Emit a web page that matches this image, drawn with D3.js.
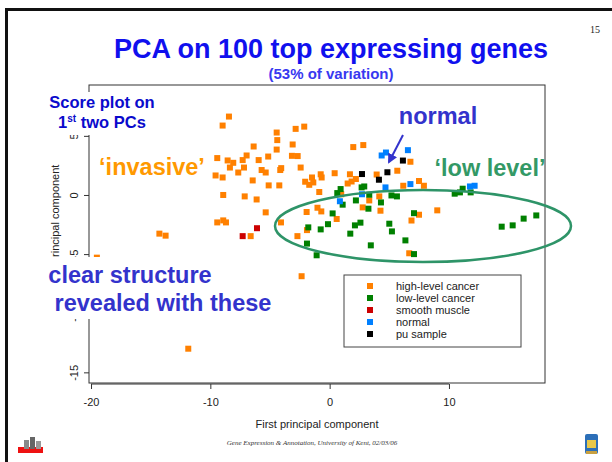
<!DOCTYPE html>
<html lang="en">
  <head>
    <meta charset="utf-8">
    <script type="text/javascript" src="https://cdn.jsdelivr.net/npm/d3@7"></script>
    <style type="text/css">
      body { margin: 0; background: #ffffff; }
      text { font-family: "Liberation Sans", Arial, sans-serif; }
      .serif { font-family: "Liberation Serif", "Times New Roman", serif; }
    </style>
  </head>
  <body>
    <script type="text/javascript">
      // scores on the first two principal components, per sample group
      var highLevel = [
        [-8.44, 6.63], [-8.97, 5.87], [-4.44, 5.28], [-2.85, 5.59], [-2.13, 5.78],
        [-4.39, 4.64], [-4.44, 3.84], [-6.37, 4.10], [-3.10, 4.27], [-9.42, 3.12],
        [-8.55, 2.92], [-8.08, 2.72], [-8.36, 2.32], [-7.29, 2.95], [-6.96, 3.34],
        [-5.95, 2.95], [-5.15, 3.25], [-7.18, 2.32], [-7.66, 1.90], [-9.56, 1.65],
        [-8.97, 1.48], [-6.45, 1.23], [-5.70, 2.11], [-5.36, 1.90], [-4.06, 2.27],
        [-4.14, 2.11], [-3.16, 3.31], [-2.68, 3.29], [-2.43, 2.32], [-5.11, 0.81],
        [-4.22, 0.81], [-2.05, 1.12], [-1.71, 0.86], [-8.92, 0.00], [-7.12, -0.12],
        [-6.12, -0.38], [-5.36, -1.47], [-4.08, -2.32], [-9.42, -2.32], [-8.92, -2.15],
        [-8.69, -2.32], [-6.62, -3.48], [-2.70, -3.48], [-1.93, -1.44], [-1.90, -2.97],
        [-2.35, -6.87], [-14.27, -3.27], [-13.75, -3.44], [-19.51, -5.30], [-11.85, -13.00],
        [1.98, 4.05], [2.82, 4.22], [0.42, 1.84], [-0.75, 1.75], [-0.67, 1.48],
        [-1.48, 1.48], [-1.37, 1.06], [1.70, 1.75], [2.20, 1.35], [1.84, 1.14],
        [1.51, 0.97], [-0.87, 0.25], [0.97, 0.06], [3.94, 1.73], [5.67, 2.05],
        [6.77, 2.81], [6.17, 0.78], [7.49, 1.18], [7.90, 0.78], [3.32, -0.46],
        [4.16, -0.12], [2.77, -1.05], [-1.02, -1.08], [-0.70, -1.39], [4.26, -1.33],
        [0.59, -2.03], [6.86, -2.16], [7.49, -1.67], [9.02, -1.30], [6.67, -4.93]
      ];
      var lowLevel = [
        [0.92, 0.50], [0.64, 0.16], [1.09, -0.82], [2.68, 0.64], [2.90, 0.72],
        [3.32, 0.02], [2.20, -0.46], [4.30, -0.63], [5.18, -0.04], [5.64, -0.12],
        [3.25, -1.16], [0.25, -1.56], [7.07, -1.54], [-0.14, -2.47], [-0.75, -2.91],
        [2.58, -2.34], [2.12, -2.57], [5.00, -2.43], [-1.79, -2.74], [1.73, -3.27],
        [5.22, -3.08], [-1.90, -4.11], [-1.09, -5.10], [3.45, -4.26], [6.35, -3.84],
        [7.07, -5.00], [10.48, 0.11], [10.92, 0.22], [11.15, 0.53], [11.82, 0.22],
        [14.42, -2.68], [15.34, -2.57], [16.26, -2.00], [17.32, -1.73]
      ];
      var smoothMuscle = [[-6.09, -2.81], [-7.29, -3.48]];
      var normal = [
        [4.36, 3.34], [4.72, 3.59], [6.56, 3.79], [6.77, 0.92], [4.68, 0.64],
        [2.71, 0.06], [0.86, -0.53], [11.76, 0.72], [12.15, 0.78]
      ];
      var puSample = [[2.71, 1.77], [4.13, 1.29], [4.84, 1.92], [6.14, 2.91]];

      var groupNames = ["high-level cancer", "low-level cancer", "smooth muscle", "normal", "pu sample"];
      var groupColors = ["#ff8000", "#008000", "#cc0000", "#0080ff", "#000000"];
      var groups = [highLevel, lowLevel, smoothMuscle, normal, puSample];

      var xTicks = [-20, -10, 0, 10];
      var yTicks = [-15, -10, -5, 0, 5];

      var width = 612, height = 462;
      var plot = {left: 89, right: 545, top: 85, bottom: 383};

      var xScale = d3.scaleLinear().domain([-20.17, 18.05]).range([plot.left, plot.right]);
      var yScale = d3.scaleLinear().domain([-15.9, 9.3]).range([plot.bottom, plot.top]);

      // plain hyphen for negative numbers, as in the original R plot
      var plain = function(d) { return String(d); };

      var svg = d3.select("body").append("svg")
        .attr("width", width)
        .attr("height", height);

      svg.append("rect").attr("width", width).attr("height", height).attr("fill", "#ffffff");

      // slide frame (top and left edges)
      svg.append("rect").attr("x", 5).attr("y", 8).attr("width", 610).attr("height", 3).attr("fill", "#111");
      svg.append("rect").attr("x", 5).attr("y", 8).attr("width", 3).attr("height", 460).attr("fill", "#111");

      // slide number
      svg.append("text").attr("class", "serif")
        .attr("x", 590).attr("y", 33)
        .style("font-size", "10px").attr("fill", "#222")
        .text("15");

      // title
      svg.append("text")
        .attr("x", 331).attr("y", 58)
        .attr("text-anchor", "middle")
        .style("font-size", "27px").style("font-weight", "bold")
        .attr("fill", "#1010ee")
        .text("PCA on 100 top expressing genes");
      svg.append("text")
        .attr("x", 331).attr("y", 79)
        .attr("text-anchor", "middle")
        .style("font-size", "15px").style("font-weight", "bold")
        .attr("fill", "#3838f0")
        .text("(53% of variation)");

      // plot box
      svg.append("rect")
        .attr("x", plot.left).attr("y", plot.top)
        .attr("width", plot.right - plot.left).attr("height", plot.bottom - plot.top)
        .attr("fill", "none").attr("stroke", "#333").attr("stroke-width", 1);

      // axes
      var xAxis = d3.axisBottom(xScale).tickValues(xTicks).tickSize(5).tickPadding(9).tickFormat(plain);
      var gx = svg.append("g")
        .attr("transform", "translate(0," + (plot.bottom + 1) + ")")
        .call(xAxis);
      gx.select(".domain").attr("d", "M" + xScale(-20) + ",0H" + xScale(10)).attr("stroke", "#333");
      gx.selectAll("line").attr("stroke", "#333");
      gx.selectAll("text").style("font-size", "11px").attr("fill", "#222");

      var yAxis = d3.axisLeft(yScale).tickValues(yTicks).tickSize(5).tickFormat(plain);
      var gy = svg.append("g")
        .attr("transform", "translate(" + plot.left + ",0)")
        .call(yAxis);
      gy.select(".domain").remove();
      gy.selectAll("line").attr("stroke", "#333");
      gy.selectAll("text")
        .style("font-size", "11px").attr("fill", "#222")
        .attr("text-anchor", "middle")
        .attr("x", 0).attr("dy", 0)
        .attr("transform", "translate(-11,0) rotate(-90)");
      svg.selectAll(".tick text").attr("font-family", null);

      svg.append("text")
        .attr("x", (plot.left + plot.right) / 2).attr("y", 428)
        .attr("text-anchor", "middle")
        .style("font-size", "11px").attr("fill", "#222")
        .text("First principal component");
      svg.append("text")
        .attr("transform", "translate(59," + ((plot.top + plot.bottom) / 2) + ") rotate(-90)")
        .attr("text-anchor", "middle")
        .style("font-size", "11px").attr("fill", "#222")
        .text("Second principal component");

      // points
      groups.forEach(function(g, i) {
        svg.append("g").selectAll("rect")
          .data(g)
          .enter()
          .append("rect")
          .attr("x", function(d) { return xScale(d[0]) - 3; })
          .attr("y", function(d) { return yScale(d[1]) - 3; })
          .attr("width", 6).attr("height", 6)
          .attr("fill", groupColors[i]);
      });

      // legend
      var legend = svg.append("g");
      legend.append("rect")
        .attr("x", 344).attr("y", 275).attr("width", 177).attr("height", 72)
        .attr("fill", "#ffffff").attr("stroke", "#444").attr("stroke-width", 1);
      groupNames.forEach(function(name, i) {
        legend.append("rect")
          .attr("x", 367).attr("y", 283 + i * 12).attr("width", 6).attr("height", 6)
          .attr("fill", groupColors[i]);
        legend.append("text")
          .attr("x", 396).attr("y", 290 + i * 12)
          .style("font-size", "11px").attr("fill", "#222")
          .text(name);
      });

      // ellipse round the low-level group
      svg.append("ellipse")
        .attr("cx", 423).attr("cy", 226).attr("rx", 148).attr("ry", 36)
        .attr("fill", "none").attr("stroke", "#2e9468").attr("stroke-width", 2.5);

      // annotations
      function note(x, y, str, size, color) {
        return svg.append("text")
          .attr("x", x).attr("y", y)
          .attr("text-anchor", "middle")
          .style("font-size", size + "px").style("font-weight", "bold")
          .attr("fill", color)
          .text(str);
      }

      svg.append("rect").attr("x", 44).attr("y", 92).attr("width", 116).attr("height", 43).attr("fill", "#ffffff");
      note(102, 108, "Score plot on", 16.5, "#0a0acc");
      var pcs = note(102, 128, "", 16.5, "#0a0acc");
      pcs.append("tspan").text("1");
      pcs.append("tspan").attr("dy", -6).style("font-size", "10px").text("st");
      pcs.append("tspan").attr("dy", 6).text(" two PCs");

      svg.append("rect").attr("x", 44).attr("y", 257).attr("width", 236).attr("height", 62).attr("fill", "#ffffff");
      note(130, 283, "clear structure", 23.5, "#3333cc");
      note(163, 311, "revealed with these", 23.5, "#3333cc");

      note(152, 175, "\u2018invasive\u2019", 23.5, "#ff9900");
      note(438, 124, "normal", 23.5, "#3333cc");
      note(490, 176, "\u2018low level\u2019", 23.5, "#339966");

      // arrow to the normal samples
      svg.append("defs").append("marker")
        .attr("id", "head").attr("viewBox", "0 0 10 10")
        .attr("refX", 8).attr("refY", 5)
        .attr("markerWidth", 5).attr("markerHeight", 5)
        .attr("orient", "auto")
        .append("path").attr("d", "M0,0L10,5L0,10z").attr("fill", "#3333cc");
      svg.append("line")
        .attr("x1", 403).attr("y1", 135).attr("x2", 389).attr("y2", 162)
        .attr("stroke", "#3333cc").attr("stroke-width", 2)
        .attr("marker-end", "url(#head)");

      // footer
      svg.append("text").attr("class", "serif")
        .attr("x", 312).attr("y", 445)
        .attr("text-anchor", "middle")
        .style("font-size", "7px").style("font-style", "italic").attr("fill", "#333")
        .text("Gene Expression & Annotation, University of Kent, 02/03/06");

      // small logos
      var logoL = svg.append("g");
      logoL.append("rect").attr("x", 18).attr("y", 447).attr("width", 25).attr("height", 6).attr("fill", "#ee1111");
      logoL.append("rect").attr("x", 24).attr("y", 440).attr("width", 5).attr("height", 9).attr("fill", "#888");
      logoL.append("rect").attr("x", 30).attr("y", 437).attr("width", 5).attr("height", 12).attr("fill", "#666");
      logoL.append("rect").attr("x", 36).attr("y", 441).attr("width", 5).attr("height", 8).attr("fill", "#999");

      var logoR = svg.append("g");
      logoR.append("rect").attr("x", 585).attr("y", 434).attr("width", 13).attr("height", 20).attr("rx", 2).attr("fill", "#2c6fb8");
      logoR.append("rect").attr("x", 587).attr("y", 440).attr("width", 9).attr("height", 8).attr("fill", "#e8c84a");
      logoR.append("rect").attr("x", 586).attr("y", 451).attr("width", 11).attr("height", 3).attr("fill", "#c8a040");
    </script>
  </body>
</html>
